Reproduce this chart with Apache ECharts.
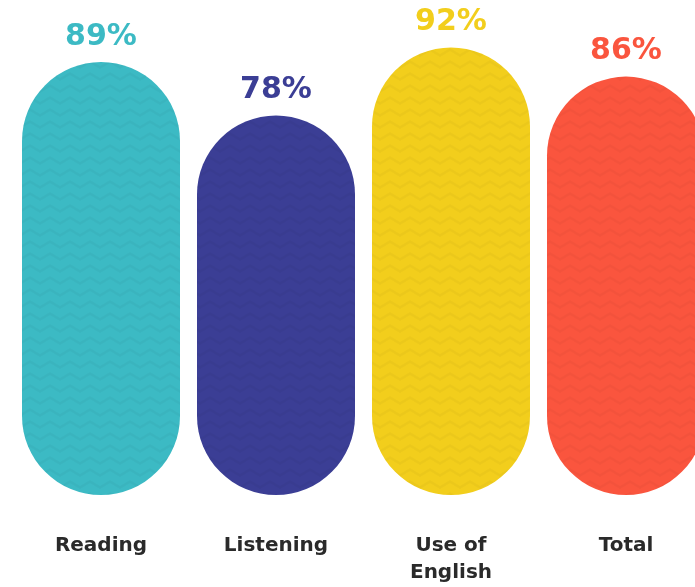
<!DOCTYPE html>
<html>
<head>
<meta charset="utf-8">
<script src="https://cdn.jsdelivr.net/npm/echarts@6/dist/echarts.min.js"></script>
<style>
html,body{margin:0;padding:0;background:#fff;}
#chart{width:695px;height:587px;}
</style>
</head>
<body>
<div id="chart"></div>
<script>
const categories = ['Reading', 'Listening', 'Use of\nEnglish', 'Total'];
const values = [89, 78, 92, 86];
const barColors = ['#3CBAC4', '#3B3E95', '#F2CE1C', '#FA553E'];

const chart = echarts.init(document.getElementById('chart'));
const zig = {
  symbol: 'path://M0,6 L10,0 L20,6 L20,9 L10,3 L0,9 Z',
  symbolSize: 1,
  dashArrayX: [[20, 0]],
  dashArrayY: [9, 3],
  rotation: 0,
  color: 'rgba(0,0,0,0.028)'
};
chart.setOption({
  animation: false,
  grid: { left: 13.5, width: 700, top: 8.5, bottom: 92, containLabel: false, outerBoundsMode: 'none' },
  xAxis: {
    type: 'category',
    data: categories,
    axisLine: { show: false },
    axisTick: { show: false },
    axisLabel: {
      margin: 37,
      color: '#2a2a2a',
      fontFamily: 'DejaVu Sans',
      fontWeight: 'bold',
      fontSize: 20,
      lineHeight: 27,
      verticalAlign: 'top'
    }
  },
  yAxis: {
    type: 'value',
    min: 0,
    max: 100,
    show: false,
    splitLine: { show: false }
  },
  series: [{
    type: 'bar',
    barWidth: 158,
    data: values.map((v, i) => ({
      value: v,
      itemStyle: { color: barColors[i], borderRadius: 79, decal: zig },
      label: { color: barColors[i] }
    })),
    label: {
      show: true,
      position: 'top',
      distance: 10,
      formatter: '{c}%',
      fontFamily: 'DejaVu Sans',
      fontWeight: 'bold',
      fontSize: 30
    }
  }]
});
</script>
</body>
</html>
